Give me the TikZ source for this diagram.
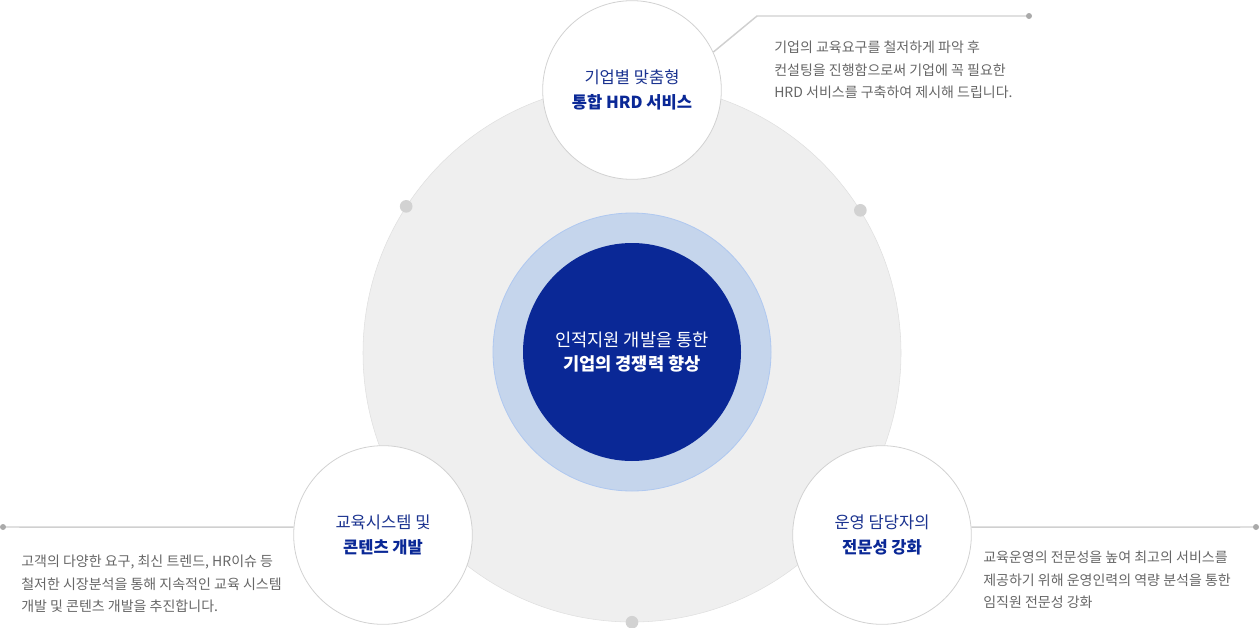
\documentclass[tikz,border=0pt]{standalone}
\usepackage{fontspec}
\setmainfont{Noto Sans CJK KR}
\usetikzlibrary{positioning}
\definecolor{HrdNavy}{HTML}{0A2896}
\definecolor{HrdTitle}{HTML}{1B3390}
\definecolor{HrdSky}{HTML}{C5D5EC}
\definecolor{HrdSkyLine}{HTML}{AFC8F0}
\definecolor{HrdDisc}{HTML}{EFEFEF}
\definecolor{HrdRim}{HTML}{D2D2D2}
\definecolor{HrdText}{HTML}{666666}
\definecolor{HrdLine}{HTML}{D0D0D0}
\definecolor{HrdDot}{HTML}{AAAAAA}

\begin{document}
\begin{tikzpicture}[x=0.75pt,y=-0.75pt,
    subcircle/.style={
      circle,
      draw=HrdRim,
      fill=white,
      line width=0.6pt,
      minimum size=134pt,
      inner sep=0pt,
      align=center,
      font=\fontsize{12.4}{18.75}\selectfont
    },
    desctext/.style={
      anchor=north west,
      align=left,
      inner sep=0pt,
      text=HrdText,
      font=\fontsize{10.5}{16.9}\selectfont
    },
    leader/.style={draw=HrdLine,line width=1.1pt},
    enddot/.style={circle,fill=HrdDot,minimum size=4.5pt,inner sep=0pt},
    rimdot/.style={circle,fill=HrdRim,minimum size=9.5pt,inner sep=0pt}]

    \useasboundingbox (0,0) rectangle (1260,628);

    % Grey disc with its rim dots
    \node[circle,fill=HrdDisc,draw=HrdRim!70,line width=0.4pt,minimum size=403.5pt,inner sep=0pt] (disc) at (632,353) {};
    \node[rimdot] (r1) at (disc.147.3) {};
    \node[rimdot] (r2) at (disc.32.7) {};
    \node[rimdot] (r3) at (disc.270) {};

    % Hub: blue ring and navy core
    \node[circle,fill=HrdSky,draw=HrdSkyLine,line width=0.6pt,minimum size=208.5pt,inner sep=0pt] (ring) at (632,352) {};
    \node[circle,fill=HrdNavy,text=white,minimum size=163.5pt,inner sep=0pt,align=center,
      font=\fontsize{13.2}{18}\selectfont] (hub) at (632,352) {
      인적지원 개발을 통한\\
      {\bfseries 기업의 경쟁력 향상}
    };

    % Leader end points
    \coordinate (k1) at (757,16);
    \coordinate (p1) at (1029,16);
    \coordinate (p2) at (3,527);
    \coordinate (p3) at (1256,527);

    % Circle 1: top
    \node[subcircle] (c1) at (632,90) {
      {\color{HrdTitle}기업별 맞춤형}\\
      {\bfseries\color{HrdNavy}통합 HRD 서비스}
    };

    % Circle 2: lower left
    \node[subcircle] (c2) at (383,535) {
      {\color{HrdTitle}교육시스템 및}\\
      {\bfseries\color{HrdNavy}콘텐츠 개발}
    };

    % Circle 3: lower right
    \node[subcircle] (c3) at (882,535) {
      {\color{HrdTitle}운영 담당자의}\\
      {\bfseries\color{HrdNavy}전문성 강화}
    };

    % Leaders
    \draw[leader] (c1.25) -- (k1) -- (p1);
    \draw[leader] (c2.175) -- (p2);
    \draw[leader] (c3.5) -- (p3);
    \node[enddot] (e1) at (p1) {};
    \node[enddot] (e2) at (p2) {};
    \node[enddot] (e3) at (p3) {};

    % Descriptions
    \node[desctext] (d1) at (774,41) {
      기업의 교육요구를 철저하게 파악 후\\
      컨설팅을 진행함으로써 기업에 꼭 필요한\\
      HRD 서비스를 구축하여 제시해 드립니다.
    };
    \node[desctext] (d2) at (21,555) {
      고객의 다양한 요구, 최신 트렌드, HR이슈 등\\
      철저한 시장분석을 통해 지속적인 교육 시스템\\
      개발 및 콘텐츠 개발을 추진합니다.
    };
    \node[desctext] (d3) at (983,551) {
      교육운영의 전문성을 높여 최고의 서비스를\\
      제공하기 위해 운영인력의 역량 분석을 통한\\
      임직원 전문성 강화
    };
  \end{tikzpicture}
\end{document}
